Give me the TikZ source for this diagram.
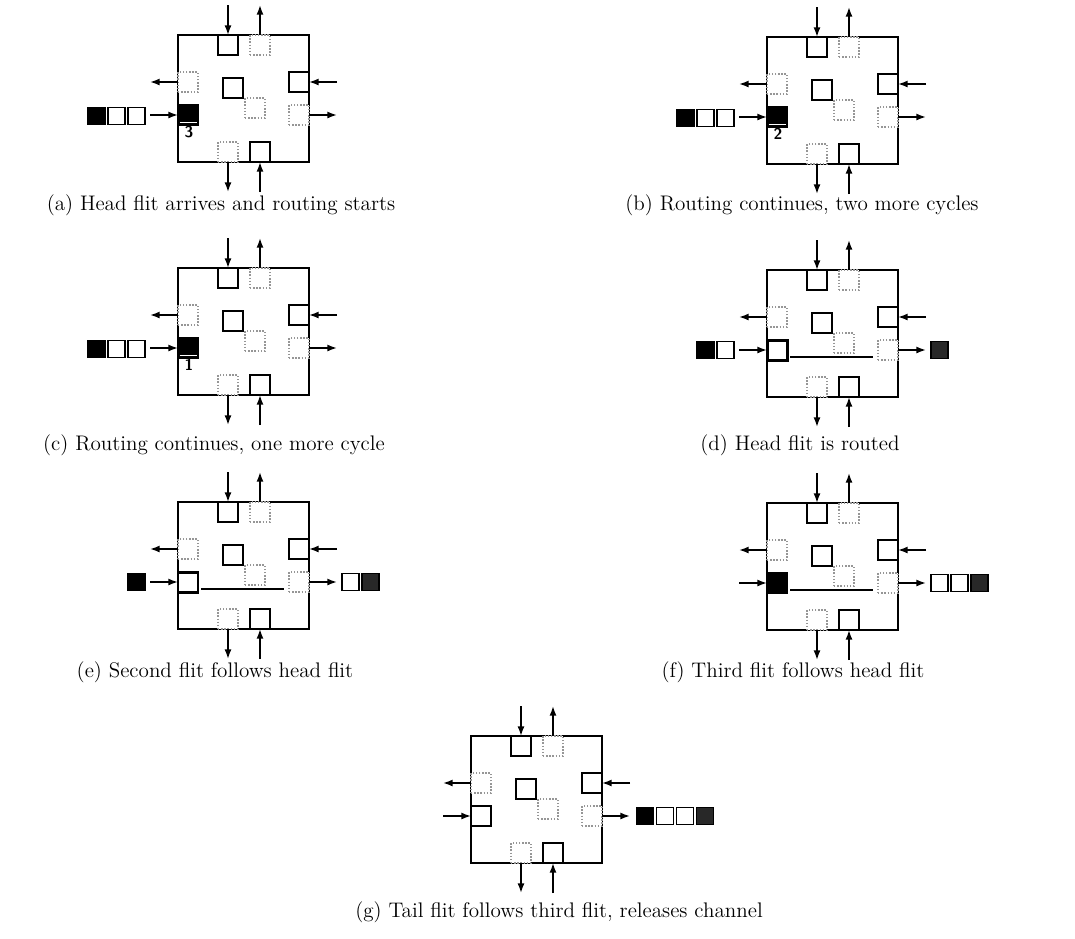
\documentclass[tikz,border=0pt]{standalone}
\usepackage{tikz}
\usetikzlibrary{arrows.meta, calc, positioning}
\definecolor{bufgrey}{RGB}{150,150,150}
\definecolor{flitdark}{RGB}{40,40,40}
\tikzset{
  buf/.style={draw, fill=white, line width=0.9pt, minimum size=0.4cm, inner sep=0pt, outer sep=0pt},
  freebuf/.style={draw=bufgrey, densely dotted, fill=white, line width=0.8pt, minimum size=0.4cm, inner sep=0pt, outer sep=0pt},
  flit/.style={draw, fill=white, line width=0.8pt, minimum size=0.34cm, inner sep=0pt, outer sep=0pt},
  pieno/.style={fill=black},
  spesso/.style={line width=1.7pt},
  freccia/.style={-{Latex[length=5.5pt,width=4pt]}, line width=0.9pt},
  contatore/.style={font=\sffamily\bfseries\small, inner sep=0pt},
  crossbar/.style={line width=1pt},
  didascalia/.style={font=\large},
}
% router con i buffer fissi, #1 = stile del buffer d'ingresso ovest
\newcommand{\routerbase}[1]{%
  \draw[line width=1.3pt] (0,0) rectangle (131,127);
  \node[buf] (tin) at (50,10) {};
  \node[freebuf] (tout) at (82,10) {};
  \node[freebuf] (lout) at (10,47) {};
  \node[buf, #1] (lin) at (10,80) {};
  \node[buf] (rin) at (121,47) {};
  \node[freebuf] (rout) at (121,80) {};
  \node[buf] (cin) at (55,53) {};
  \node[freebuf] (cout) at (77,73) {};
  \node[freebuf] (bout) at (50,117) {};
  \node[buf] (bin) at (82,117) {};
  % canali
  \coordinate (tinsrc) at (50,-30);
  \coordinate (toutdst) at (82,-30);
  \coordinate (loutdst) at (-28,47);
  \coordinate (linsrc) at (-28,80);
  \coordinate (rinsrc) at (159,47);
  \coordinate (routdst) at (159,80);
  \coordinate (boutdst) at (50,157);
  \coordinate (binsrc) at (82,157);
  \draw[freccia] (tinsrc) -- (tin.north);
  \draw[freccia] (tout.north) -- (toutdst);
  \draw[freccia] (lout.west) -- (loutdst);
  \draw[freccia] (linsrc) -- (lin.west);
  \draw[freccia] (rinsrc) -- (rin.east);
  \draw[freccia] (rout.east) -- (routdst);
  \draw[freccia] (bout.south) -- (boutdst);
  \draw[freccia] (binsrc) -- (bin.south);
}

\begin{document}
\begin{tikzpicture}[x=0.02cm, y=-0.02cm]
  \useasboundingbox (0,0) rectangle (1075,938);

  % (a)
  \begin{scope}[shift={(178,35)}]
    \routerbase{pieno}
    \draw[white, line width=0.6pt] ($(lin.south west)+(1.5,-2.5)$) -- ($(lin.south east)+(-1.5,-2.5)$);
    \node[contatore] (na) at (11,97) {3};
    \node[flit, pieno] (qa1) at (-81.5,81) {};
    \node[flit] (qa2) at (-61.5,81) {};
    \node[flit] (qa3) at (-41.5,81) {};
  \end{scope}
  \node[didascalia] (capa) at (221,205) {(a) Head flit arrives and routing starts};

  % (b)
  \begin{scope}[shift={(767,37)}]
    \routerbase{pieno}
    \draw[white, line width=0.6pt] ($(lin.south west)+(1.5,-2.5)$) -- ($(lin.south east)+(-1.5,-2.5)$);
    \node[contatore] (nb) at (11,97) {2};
    \node[flit, pieno] (qb1) at (-81.5,81) {};
    \node[flit] (qb2) at (-61.5,81) {};
    \node[flit] (qb3) at (-41.5,81) {};
  \end{scope}
  \node[didascalia] (capb) at (802,205) {(b) Routing continues, two more cycles};

  % (c)
  \begin{scope}[shift={(178,268)}]
    \routerbase{pieno}
    \draw[white, line width=0.6pt] ($(lin.south west)+(1.5,-2.5)$) -- ($(lin.south east)+(-1.5,-2.5)$);
    \node[contatore] (nc) at (11,97) {1};
    \node[flit, pieno] (qc1) at (-81.5,81) {};
    \node[flit] (qc2) at (-61.5,81) {};
    \node[flit] (qc3) at (-41.5,81) {};
  \end{scope}
  \node[didascalia] (capc) at (214,445) {(c) Routing continues, one more cycle};

  % (d)
  \begin{scope}[shift={(767,270)}]
    \routerbase{spesso}
    \draw[crossbar] ($(lin.south east)+(3,-3)$) -- ($(rout.south west)+(-5,-3)$);
    \node[flit, pieno] (qd2) at (-61.5,80) {};
    \node[flit] (qd3) at (-41.5,80) {};
    \node[flit, fill=flitdark] (od1) at (172.5,80) {};
  \end{scope}
  \node[didascalia] (capd) at (800,445) {(d) Head flit is routed};

  % (e)
  \begin{scope}[shift={(178,502)}]
    \routerbase{spesso}
    \draw[crossbar] ($(lin.south east)+(3,-3)$) -- ($(rout.south west)+(-5,-3)$);
    \node[flit, pieno] (qe3) at (-41.5,80) {};
    \node[flit] (oe1) at (172.5,80) {};
    \node[flit, fill=flitdark] (oe2) at (192.5,80) {};
  \end{scope}
  \node[didascalia] (cape) at (215,672) {(e) Second flit follows head flit};

  % (f)
  \begin{scope}[shift={(767,503)}]
    \routerbase{pieno}
    \draw[crossbar] ($(lin.south east)+(3,-3)$) -- ($(rout.south west)+(-5,-3)$);
    \node[flit] (of1) at (172.5,80) {};
    \node[flit] (of2) at (192.5,80) {};
    \node[flit, fill=flitdark] (of3) at (212.5,80) {};
  \end{scope}
  \node[didascalia] (capf) at (793,672) {(f) Third flit follows head flit};

  % (g)
  \begin{scope}[shift={(471,736)}]
    \routerbase{}
    \node[flit, pieno] (og1) at (174,80) {};
    \node[flit] (og2) at (194,80) {};
    \node[flit] (og3) at (214,80) {};
    \node[flit, fill=flitdark] (og4) at (234,80) {};
  \end{scope}
  \node[didascalia] (capg) at (559,912) {(g) Tail flit follows third flit, releases channel};
\end{tikzpicture}
\end{document}
